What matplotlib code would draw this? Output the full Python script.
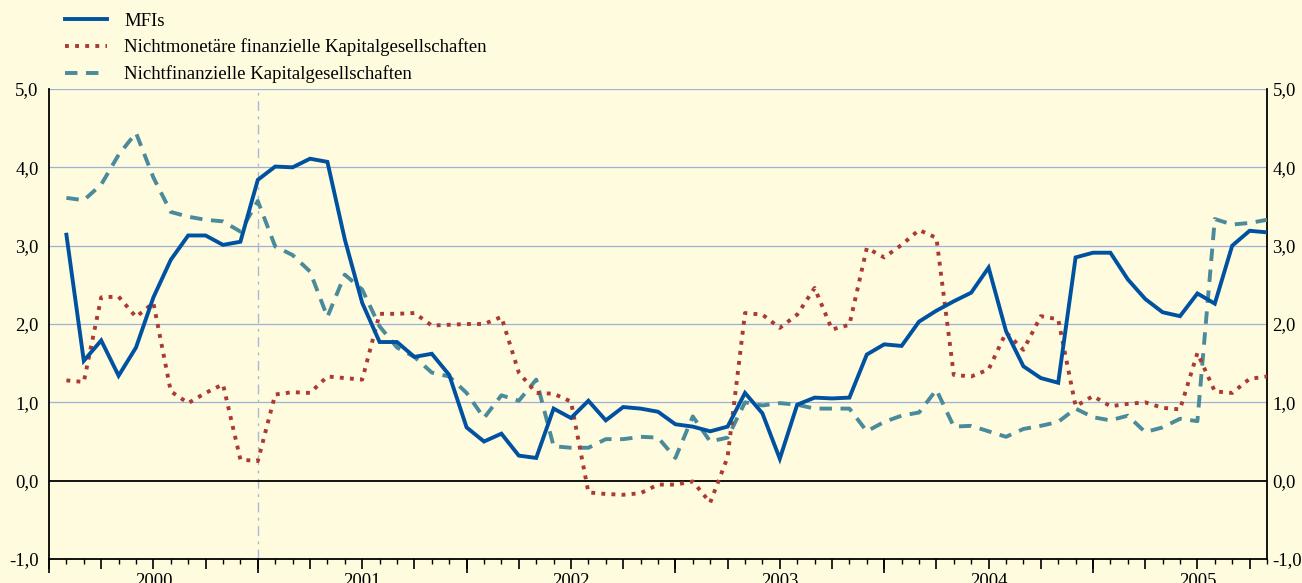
import numpy as np
import matplotlib
matplotlib.use('Agg')
import matplotlib.pyplot as plt
from matplotlib.ticker import FixedLocator, FuncFormatter

plt.rcParams['font.family'] = ['Liberation Serif', 'DejaVu Serif']

# monthly values, Jan 2000 - Oct 2005
mfi = [3.14, 1.53, 1.79, 1.34, 1.70, 2.34, 2.82, 3.13, 3.13, 3.01, 3.05, 3.84,
       4.01, 4.00, 4.11, 4.07, 3.08, 2.27, 1.77, 1.77, 1.58, 1.62, 1.35, 0.68,
       0.50, 0.60, 0.32, 0.29, 0.92, 0.80, 1.02, 0.77, 0.94, 0.92, 0.88, 0.72,
       0.69, 0.63, 0.69, 1.12, 0.86, 0.28, 0.97, 1.06, 1.05, 1.06, 1.61, 1.74,
       1.72, 2.03, 2.17, 2.29, 2.40, 2.72, 1.91, 1.46, 1.31, 1.25, 2.85, 2.91,
       2.91, 2.57, 2.32, 2.15, 2.10, 2.39, 2.26, 3.00, 3.19, 3.17]

nmfi = [1.28, 1.26, 2.34, 2.35, 2.09, 2.27, 1.14, 0.99, 1.12, 1.23, 0.27, 0.25,
        1.10, 1.13, 1.12, 1.33, 1.31, 1.29, 2.13, 2.13, 2.14, 1.98, 1.99, 2.00,
        2.00, 2.09, 1.38, 1.12, 1.11, 1.01, -0.15, -0.17, -0.18, -0.16, -0.05, -0.05,
        -0.01, -0.28, 0.30, 2.14, 2.12, 1.95, 2.12, 2.46, 1.93, 1.99, 2.97, 2.85,
        3.01, 3.20, 3.10, 1.35, 1.33, 1.42, 1.89, 1.67, 2.10, 2.06, 0.95, 1.08,
        0.95, 0.98, 1.00, 0.93, 0.91, 1.63, 1.14, 1.12, 1.30, 1.33]

nfc = [3.61, 3.58, 3.78, 4.16, 4.44, 3.87, 3.43, 3.37, 3.33, 3.31, 3.18, 3.57,
       2.99, 2.88, 2.67, 2.09, 2.63, 2.44, 1.97, 1.70, 1.58, 1.38, 1.33, 1.12,
       0.80, 1.09, 1.02, 1.29, 0.44, 0.42, 0.42, 0.53, 0.53, 0.56, 0.55, 0.29,
       0.82, 0.50, 0.55, 1.00, 0.96, 0.99, 0.97, 0.92, 0.92, 0.92, 0.63, 0.75,
       0.83, 0.87, 1.16, 0.69, 0.70, 0.63, 0.56, 0.66, 0.70, 0.75, 0.92, 0.81,
       0.77, 0.83, 0.62, 0.68, 0.79, 0.76, 3.34, 3.27, 3.29, 3.33]

labels = ['MFIs',
          'Nichtmonetäre finanzielle Kapitalgesellschaften',
          'Nichtfinanzielle Kapitalgesellschaften']
years = ['2000', '2001', '2002', '2003', '2004', '2005']

bg = '#fefbdf'
grid_col = '#9fb2d6'
fs = 13.5

x = np.arange(1, len(mfi) + 1)
n_months = len(mfi)

fig = plt.figure(figsize=(13.02, 5.83), dpi=100, facecolor=bg)
ax = fig.add_axes([49/1302, 1 - 559/583, (1267-49)/1302, (559-89)/583])
ax.set_facecolor(bg)

for v in range(1, 6):
    ax.axhline(v, color=grid_col, lw=0.9, zorder=1)
ax.axhline(0, color='black', lw=1.3, zorder=2)
# euro area enlargement, Jan 2001
ax.axvline(12, color='#a9b9d2', lw=1.0, ls=(0, (7, 4, 2, 4)), zorder=1)

ax.plot(x, mfi, color='#0052a0', lw=2.8, solid_joinstyle='miter', label=labels[0], zorder=5)
ax.plot(x, nmfi, color='#ab3a32', lw=2.8, ls=(0, (1, 1.6)), dash_capstyle='butt',
        label=labels[1], zorder=4)
ax.plot(x, nfc, color='#4a8a9b', lw=2.8, ls=(0, (3.2, 2.2)), dash_capstyle='butt',
        label=labels[2], zorder=3)

ax.set_xlim(0, n_months)
ax.set_ylim(-1, 5)

for side in ['left', 'right', 'bottom']:
    ax.spines[side].set_linewidth(1.3)
    ax.spines[side].set_color('black')
ax.spines['top'].set_visible(False)

# y labels with decimal comma, left and right
comma = FuncFormatter(lambda v, p: f'{v:.1f}'.replace('.', ','))
ax.set_yticks(range(-1, 6))
ax.yaxis.set_major_formatter(comma)
ax.tick_params(axis='y', which='both', length=0, width=0, labelsize=fs, pad=7.5)

rax = ax.secondary_yaxis('right')
rax.set_yticks(range(-1, 6))
rax.yaxis.set_major_formatter(comma)
rax.tick_params(axis='y', which='both', length=0, width=0, labelsize=fs, pad=4)
rax.spines['right'].set_visible(False)

# month / quarter ticks, year labels in the middle of each year
ax.xaxis.set_major_locator(FixedLocator(np.arange(0, n_months + 1, 3)))
ax.xaxis.set_minor_locator(FixedLocator(np.arange(0, n_months + 1, 1)))
ax.xaxis.set_major_formatter(FuncFormatter(
    lambda v, p: years[int(v) // 12] if int(v) % 12 == 6 else ''))
ax.tick_params(axis='x', which='major', length=7, width=1.2, direction='out',
               labelsize=fs, pad=3)
ax.tick_params(axis='x', which='minor', length=3.5, width=1.0, direction='out')

# longer ticks at the year boundaries
sec = ax.secondary_xaxis('bottom')
sec.set_xticks(np.arange(0, n_months + 1, 12))
sec.tick_params(length=10, width=1.2, labelbottom=False)
sec.spines['bottom'].set_visible(False)

leg = ax.legend(loc='upper left', bbox_to_anchor=(57/1302, 1 - 5/583),
                bbox_transform=fig.transFigure, frameon=False, fontsize=fs,
                handlelength=2.25, handletextpad=0.95, labelspacing=0.48,
                borderaxespad=0)

fig.savefig('out.png', dpi=100, facecolor=bg)
